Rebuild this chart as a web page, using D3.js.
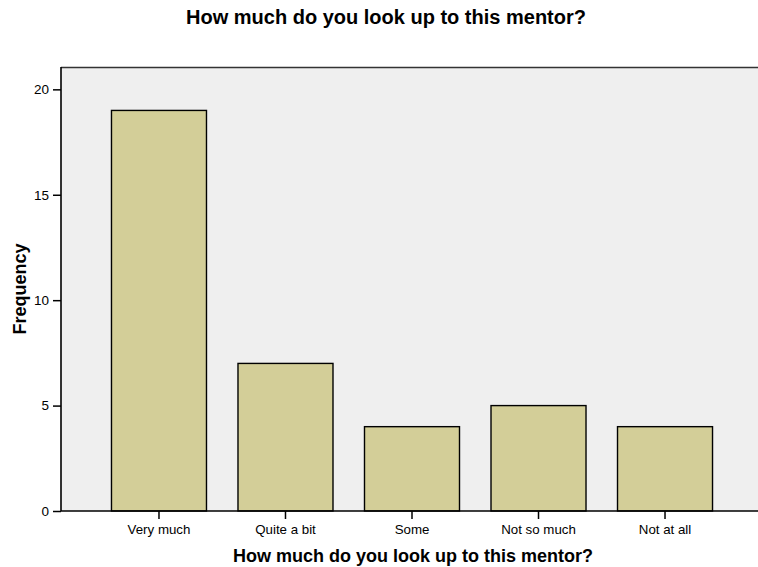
<!DOCTYPE html>
<html><head><meta charset="utf-8">
<script src="https://cdn.jsdelivr.net/npm/d3@7"></script>
<style>html,body{margin:0;padding:0;background:#fff;}svg{display:block;}</style>
</head><body>
<script>
const categories = ["Very much", "Quite a bit", "Some", "Not so much", "Not at all"];
const frequencies = [19, 7, 4, 5, 4];
const yTicks = [0, 5, 10, 15, 20];
const chartTitle = "How much do you look up to this mentor?";
const xTitle = "How much do you look up to this mentor?";
const yTitle = "Frequency";

const W = 758, H = 567;
const mLeft = 61, mTop = 67, mBottom = 511, mRight = 763;
const svg = d3.select("body").append("svg").attr("width", W).attr("height", H);
const font = "'Liberation Sans', Arial, sans-serif";

const x = d3.scaleBand().domain(categories).range([mLeft, mRight]).paddingInner(0.249).paddingOuter(0.399);
const y = d3.scaleLinear().domain([0, 21.06]).range([mBottom, mTop]);

svg.append("rect").attr("x", mLeft).attr("y", mTop).attr("width", mRight - mLeft).attr("height", mBottom - mTop)
  .attr("fill", "#efefef");
svg.append("line").attr("x1", mLeft).attr("x2", mRight).attr("y1", mTop + 0.5).attr("y2", mTop + 0.5)
  .attr("stroke", "#333").attr("stroke-width", 1.5);

svg.selectAll("rect.bar").data(frequencies).join("rect").attr("class", "bar")
  .attr("x", (d, i) => x(categories[i]))
  .attr("y", d => y(d))
  .attr("width", x.bandwidth())
  .attr("height", d => y(0) - y(d))
  .attr("fill", "#d3ce98").attr("stroke", "#000").attr("stroke-width", 1.4);

const yAxis = svg.append("g").attr("transform", `translate(${mLeft},0)`)
  .call(d3.axisLeft(y).tickValues(yTicks).tickSize(8).tickPadding(4).tickFormat(d3.format("d")));
yAxis.select(".domain").attr("stroke", "#000").attr("stroke-width", 1.6).attr("d", `M0,${mTop}V${mBottom}`);
yAxis.selectAll(".tick line").attr("stroke", "#000").attr("stroke-width", 1.5);
yAxis.selectAll("text").attr("font-family", font).attr("font-size", 13.5).attr("fill", "#000");

const xAxis = svg.append("g").attr("transform", `translate(0,${mBottom})`)
  .call(d3.axisBottom(x).tickSize(8).tickPadding(6));
xAxis.select(".domain").attr("stroke", "#000").attr("stroke-width", 1.6).attr("d", `M${mLeft},0H${mRight}`);
xAxis.selectAll(".tick line").attr("stroke", "#000").attr("stroke-width", 1.5);
xAxis.selectAll("text").attr("font-family", font).attr("font-size", 13.3).attr("fill", "#000");

svg.append("text").attr("x", 386).attr("y", 24).attr("text-anchor", "middle")
  .attr("font-family", font).attr("font-weight", "bold").attr("font-size", 20).text(chartTitle);
svg.append("text").attr("x", 413).attr("y", 562).attr("text-anchor", "middle")
  .attr("font-family", font).attr("font-weight", "bold").attr("font-size", 18).text(xTitle);
svg.append("text").attr("transform", `translate(26,${(mTop + mBottom) / 2}) rotate(-90)`).attr("text-anchor", "middle")
  .attr("font-family", font).attr("font-weight", "bold").attr("font-size", 18).text(yTitle);
</script>
</body></html>
